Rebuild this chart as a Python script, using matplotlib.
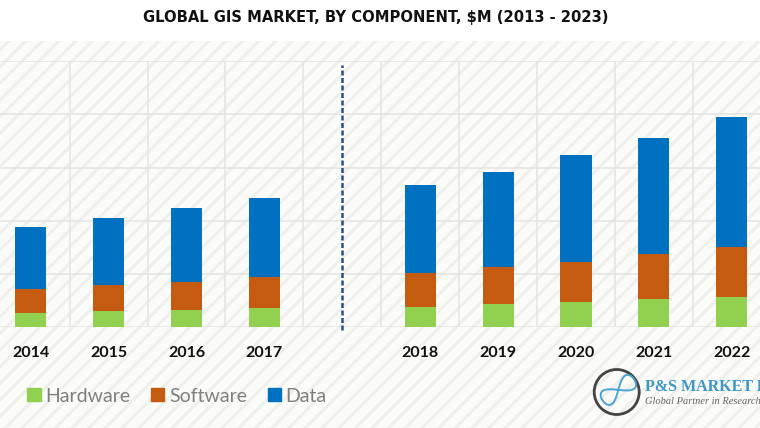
from matplotlib import pyplot as plt
from matplotlib.patches import Rectangle, Circle, Patch
import numpy as np

#data, $M (axis has no labels so the scale is a guess)
years = ['2014', '2015', '2016', '2017', '2018', '2019', '2020', '2021', '2022']
positions = [0, 1, 2, 3, 5, 6, 7, 8, 9]
hardware = [273, 301, 329, 357, 385, 432, 470, 526, 573]
software = [442, 489, 526, 583, 630, 696, 761, 846, 940]
data = [1166, 1260, 1382, 1485, 1654, 1795, 2002, 2190, 2434]

green = '#92d050'
orange = '#c55a11'
blue = '#0070c0'
grid = '#e4e4e2'

plt.rcParams['hatch.linewidth'] = 2.2
plt.rcParams['hatch.color'] = '#efefec'

fig = plt.figure(figsize=(7.6, 4.28), dpi=100, facecolor='white')

#striped background, in pixels
bg = fig.add_axes([0, 0, 1, 1])
bg.set_xlim(0, 760)
bg.set_ylim(428, 0)
bg.axis('off')
bg.add_patch(Rectangle((0, 41), 760, 387, facecolor='#fbfbfa', edgecolor='#efefec', hatch='//', linewidth=0))

#main chart, runs off both sides of the picture
ax = fig.add_axes([0, (428 - 327.3) / 428, 1, (327.3 - 61) / 428])
ax.patch.set_alpha(0)
ax.set_xlim(-0.394, 9.362)
ax.set_ylim(0, 5000)
hardware = np.array(hardware)
software = np.array(software)
ax.bar(positions, hardware, 0.4, color=green, label='Hardware')
ax.bar(positions, software, 0.4, bottom=hardware, color=orange, label='Software')
ax.bar(positions, data, 0.4, bottom=hardware + software, color=blue, label='Data')
ax.set_axisbelow(True)
ax.set_yticks([0, 1000, 2000, 3000, 4000, 5000])
ax.set_xticks(np.arange(0.5, 9.5, 1), minor=True)
ax.grid(True, which='minor', axis='x', color=grid, linewidth=1.1)
ax.grid(True, which='major', axis='y', color=grid, linewidth=1.1)
ax.set_xticks(positions)
ax.set_xticklabels(years, fontfamily='Lato', fontweight='bold', fontsize=11.5, color='#111111')
ax.tick_params(which='both', length=0, labelleft=False)
ax.tick_params(axis='x', pad=13.5)
for s in ax.spines.values():
    s.set_visible(False)
ax.axvline(4, ymin=-0.01, ymax=0.985, color='#2f4f7f', linestyle=(0, (2, 1)), linewidth=1.8, clip_on=False)

#legend
h = [Patch(color=green), Patch(color=orange), Patch(color=blue)]
fig.legend(h, ['Hardware', 'Software', 'Data'], loc='lower left', bbox_to_anchor=(0.013, 0.014), ncols=3,
           frameon=False, handlelength=0.68, handleheight=0.68, handletextpad=0.25, columnspacing=1.05,
           prop={'family': 'Lato', 'size': 14}, labelcolor='#7f7f7f')

#title
bg.text(375.5, 17, r'GLOBAL GIS MARKET, BY COMPONENT, \$M (2013 - 2023)', ha='center', va='center',
        fontfamily='DejaVu Sans', fontweight='bold', fontsize=10.6, color='#111111')

#logo
bg.add_patch(Circle((616.7, 392), 22.5, facecolor='none', edgecolor='#444444', linewidth=2))
t = np.linspace(0, 2 * np.pi, 100)
lx = 19 * np.sin(t) + 2
ly = 8 * np.sin(2 * t)
bg.plot(616.7 + lx * np.cos(0.6) + ly * np.sin(0.6), 391 - lx * np.sin(0.6) + ly * np.cos(0.6), color='#4aa3d0', linewidth=1.4)
bg.text(645, 387, 'P&S MARKET RESEARCH', ha='left', va='center', fontfamily='Liberation Serif', fontweight='bold',
        fontsize=11.5, color='#3f97c4', clip_on=True)
bg.text(645, 402, 'Global Partner in Research', ha='left', va='center', fontfamily='Liberation Serif',
        style='italic', fontsize=7.5, color='#666666', clip_on=True)

plt.savefig('out.png', dpi=100)
